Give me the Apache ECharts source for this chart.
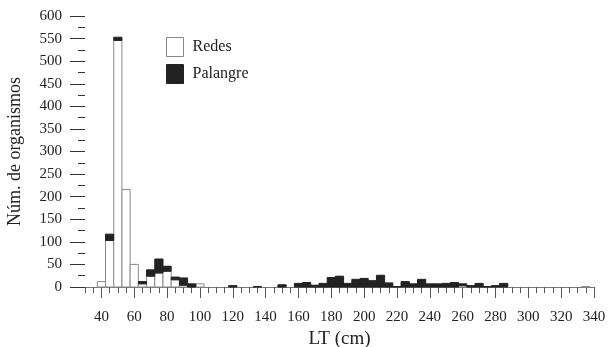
<!DOCTYPE html>
<html>
<head>
<meta charset="utf-8">
<script src="https://cdn.jsdelivr.net/npm/echarts@6/dist/echarts.min.js"></script>
<style>
  html, body { margin: 0; padding: 0; background: #fff; }
  #chart { width: 608px; height: 347px; }
</style>
</head>
<body>
<div id="chart"></div>
<script>
// bin centres (cm), 5 cm classes
const lengths = [40, 45, 50, 55, 60, 65, 70, 75, 80, 85, 90, 95, 100, 105, 110, 115, 120, 125, 130, 135,
  140, 145, 150, 155, 160, 165, 170, 175, 180, 185, 190, 195, 200, 205, 210, 215, 220, 225, 230, 235,
  240, 245, 250, 255, 260, 265, 270, 275, 280, 285, 290, 295, 300, 305, 310, 315, 320, 325, 330, 335];
const redes = [12, 103, 546, 216, 50, 7, 24, 31, 35, 16, 4, 0, 7, 0, 0, 0, 0, 0, 0, 0,
  0, 0, 0, 0, 0, 0, 0, 0, 0, 0, 0, 0, 0, 0, 0, 0, 0, 0, 0, 0,
  0, 0, 0, 0, 3, 0, 0, 0, 0, 0, 0, 0, 0, 0, 0, 0, 0, 0, 0, 1];
const palangre = [0, 14, 7, 0, 0, 5, 14, 31, 11, 6, 16, 7, 0, 0, 0, 0, 3, 0, 0, 1,
  0, 0, 5, 0, 8, 10, 4, 8, 21, 24, 8, 17, 19, 14, 26, 9, 1, 12, 7, 17,
  7, 7, 8, 10, 4, 3, 8, 1, 3, 8, 0, 0, 0, 0, 0, 0, 0, 0, 0, 0];
const xLabels = [40, 60, 80, 100, 120, 140, 160, 180, 200, 220, 240, 260, 280, 300, 320, 340];

const font = 'Liberation Serif';
const xMin = 30, xMax = 340, binW = 5;
const redesStyle = { color: '#fff', borderColor: '#8a8a8a', borderWidth: 1 };
const palStyle = { color: '#222', borderColor: '#222', borderWidth: 1 };

// stacked histogram bar: value[0]=centre, value[1]=base, value[2]=count
function binRect(style) {
  return function (params, api) {
    const x = api.value(0), base = api.value(1), v = api.value(2);
    if (!v) return null;
    const p0 = api.coord([x - binW / 2, base]);
    const p1 = api.coord([x + binW / 2, base + v]);
    return {
      type: 'rect',
      shape: { x: p0[0], y: p1[1], width: p1[0] - p0[0], height: p0[1] - p1[1] },
      style: { fill: style.color, stroke: style.borderColor, lineWidth: style.borderWidth },
    };
  };
}

const chart = echarts.init(document.getElementById('chart'));
chart.setOption({
  animation: false,
  textStyle: { fontFamily: font, color: '#222' },
  grid: { left: 85, right: 14, top: 16, bottom: 60, outerBoundsMode: 'none' },
  legend: {
    orient: 'vertical',
    left: 161,
    top: 32,
    itemWidth: 17,
    itemHeight: 19,
    itemGap: 7,
    textStyle: { fontFamily: font, fontSize: 16, color: '#222', padding: [0, 0, 0, 4] },
    data: [
      { name: 'Redes', icon: 'rect', itemStyle: redesStyle },
      { name: 'Palangre', icon: 'rect', itemStyle: palStyle },
    ],
  },
  xAxis: [
    {
      type: 'value',
      min: xMin,
      max: xMax,
      interval: binW,
      name: 'LT (cm)',
      nameLocation: 'middle',
      nameGap: 40,
      nameTextStyle: { fontFamily: font, fontSize: 19, color: '#222' },
      axisLine: { lineStyle: { color: '#777', width: 1 } },
      axisTick: { length: 6, lineStyle: { color: '#555' } },
      axisLabel: { customValues: xLabels, margin: 23, fontSize: 15, color: '#222' },
      splitLine: { show: false },
    },
    {
      // longer ticks under the labelled values
      type: 'value',
      position: 'bottom',
      min: xMin,
      max: xMax,
      interval: binW,
      axisLine: { show: false },
      axisTick: { customValues: xLabels, length: 11, lineStyle: { color: '#555' } },
      axisLabel: { show: false },
      splitLine: { show: false },
    },
  ],
  yAxis: {
    type: 'value',
    min: 0,
    max: 600,
    interval: 50,
    name: 'Núm. de organismos',
    nameLocation: 'middle',
    nameGap: 61,
    nameTextStyle: { fontFamily: font, fontSize: 18, color: '#222' },
    axisLine: { show: false },
    axisTick: { show: true, length: 15, lineStyle: { color: '#333' } },
    minorTick: { show: true, splitNumber: 2, length: 7, lineStyle: { color: '#333' } },
    axisLabel: { margin: 23, fontSize: 15, color: '#222' },
    splitLine: { show: false },
  },
  series: [
    {
      name: 'Redes',
      type: 'custom',
      itemStyle: redesStyle,
      encode: { x: 0, y: 2 },
      renderItem: binRect(redesStyle),
      data: lengths.map((l, i) => [l, 0, redes[i]]),
    },
    {
      name: 'Palangre',
      type: 'custom',
      itemStyle: palStyle,
      encode: { x: 0, y: 2 },
      renderItem: binRect(palStyle),
      data: lengths.map((l, i) => [l, redes[i], palangre[i]]),
    },
  ],
});
</script>
</body>
</html>
